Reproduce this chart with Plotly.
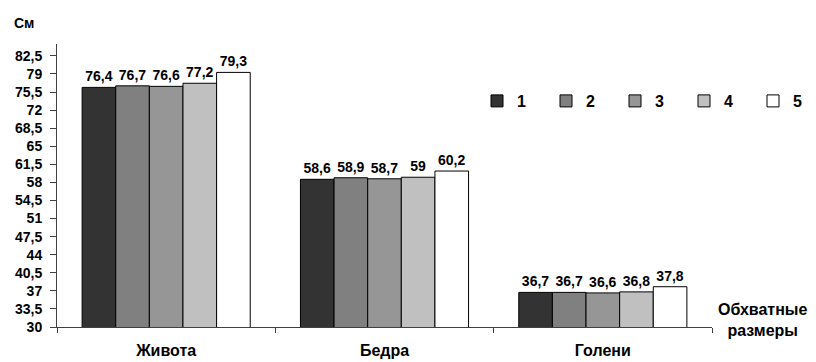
import plotly.graph_objects as go

# Girth measurements (cm) per body part, five groups
categories = ["Живота", "Бедра", "Голени"]
series_names = ["1", "2", "3", "4", "5"]
values = [
    [76.4, 58.6, 36.7],
    [76.7, 58.9, 36.7],
    [76.6, 58.7, 36.6],
    [77.2, 59.0, 36.8],
    [79.3, 60.2, 37.8],
]
colors = ["#333333", "#808080", "#969696", "#c0c0c0", "#ffffff"]
y_ticks = [30, 33.5, 37, 40.5, 44, 47.5, 51, 54.5, 58, 61.5, 65, 68.5, 72, 75.5, 79, 82.5]


def fmt(v):
    """Number with a decimal comma."""
    return f"{v:g}".replace(".", ",")


FONT = "Liberation Sans, Arial, sans-serif"
BLACK = "#000000"

fig = go.Figure()
for name, vals, col in zip(series_names, values, colors):
    fig.add_trace(go.Bar(
        name=name,
        x=categories,
        y=vals,
        marker=dict(color=col, line=dict(color=BLACK, width=1)),
        text=[fmt(v) for v in vals],
        textposition="outside",
        textfont=dict(family=FONT, size=14, color=BLACK, weight="bold"),
        constraintext="none",
        cliponaxis=False,
    ))

fig.update_layout(
    width=816,
    height=362,
    margin=dict(l=57, r=104, t=44, b=35, autoexpand=False),
    paper_bgcolor="#ffffff",
    plot_bgcolor="#ffffff",
    barmode="group",
    bargap=0.23,
    bargroupgap=0,
    font=dict(family=FONT, size=14, color=BLACK, weight="bold"),
    showlegend=True,
    legend=dict(
        orientation="h",
        x=(477 - 57) / 655, xanchor="left",
        y=(327 - 101) / 283, yanchor="middle",
        font=dict(family=FONT, size=16, color=BLACK, weight="bold"),
        itemwidth=30,
        entrywidth=24,
        entrywidthmode="pixels",
        traceorder="normal",
        bgcolor="rgba(0,0,0,0)",
    ),
    xaxis=dict(
        type="category",
        automargin=False,
        showline=True,
        linecolor="#404040",
        linewidth=1,
        ticks="outside",
        tickson="boundaries",
        ticklen=5,
        tickcolor="#404040",
        tickfont=dict(family=FONT, size=16, color=BLACK, weight="bold"),
        ticklabelstandoff=9,
        showgrid=False,
        zeroline=False,
    ),
    yaxis=dict(
        automargin=False,
        range=[30, 84.8],
        tickvals=y_ticks,
        ticktext=[fmt(t) for t in y_ticks],
        showline=True,
        linecolor="#404040",
        linewidth=1,
        ticks="outside",
        ticklen=6,
        tickcolor="#404040",
        tickfont=dict(family=FONT, size=14, color=BLACK, weight="bold"),
        ticklabelstandoff=5,
        showgrid=False,
        zeroline=False,
    ),
    annotations=[
        dict(text="См", xref="paper", yref="paper", x=0, y=1.075,
             xanchor="left", yanchor="middle", showarrow=False,
             xshift=-45, font=dict(family=FONT, size=14, color=BLACK, weight="bold")),
        dict(text="Обхватные<br>размеры", xref="paper", yref="paper",
             x=1, y=0.025, xanchor="center", yanchor="middle", showarrow=False,
             xshift=51, font=dict(family=FONT, size=16, color=BLACK, weight="bold")),
    ],
)

fig.write_html("out.html")
